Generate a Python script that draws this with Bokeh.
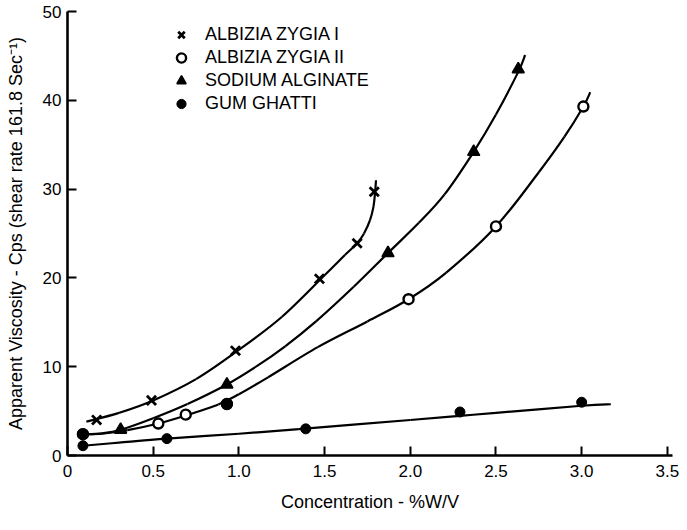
from bokeh.plotting import figure
from bokeh.models import Range1d, FixedTicker, CustomJSTickFormatter, Legend, LegendItem
from bokeh.embed import file_html
from bokeh.resources import INLINE

# ---- data ----
x_ticks = [0, 0.5, 1.0, 1.5, 2.0, 2.5, 3.0, 3.5]
y_ticks = [0, 10, 20, 30, 40, 50]

names = ["ALBIZIA ZYGIA I", "ALBIZIA ZYGIA II", "SODIUM ALGINATE", "GUM GHATTI"]

# measured points
alb1_x = [0.17, 0.49, 0.98, 1.47, 1.69, 1.79]
alb1_y = [4.0, 6.2, 11.8, 19.9, 23.9, 29.7]

alb2_x = [0.09, 0.53, 0.69, 0.93, 1.99, 2.50, 3.01]
alb2_y = [2.4, 3.6, 4.6, 5.8, 17.6, 25.8, 39.3]
alb2_solid_idx = [0, 3]

alg_x = [0.31, 0.93, 1.87, 2.37, 2.63]
alg_y = [2.9, 8.0, 22.8, 34.2, 43.5]

gha_x = [0.09, 0.58, 1.39, 2.29, 3.00]
gha_y = [1.1, 1.9, 3.0, 4.9, 6.0]

# hand-drawn fitted curves
alb1_cx = [0.11, 0.3, 0.5, 0.75, 1.0, 1.25, 1.5, 1.62, 1.69, 1.73, 1.765, 1.785, 1.795, 1.80]
alb1_cy = [3.8, 4.8, 6.2, 8.6, 11.9, 15.6, 20.3, 22.6, 23.9, 25.0, 26.5, 28.0, 29.7, 31.0]

alb2_cx = [0.09, 0.2, 0.35, 0.53, 0.69, 0.88, 1.0, 1.17, 1.46, 1.75, 1.99, 2.21, 2.5, 2.75, 2.9, 3.01, 3.05]
alb2_cy = [2.4, 2.45, 2.85, 3.6, 4.5, 5.75, 6.9, 8.8, 12.2, 15.1, 17.6, 20.6, 25.8, 31.9, 35.9, 39.3, 40.9]

alg_cx = [0.09, 0.2, 0.31, 0.5, 0.7, 0.93, 1.1, 1.27, 1.45, 1.67, 1.87, 2.05, 2.2, 2.37, 2.5, 2.63, 2.67]
alg_cy = [2.4, 2.5, 2.9, 4.2, 5.8, 8.0, 10.0, 12.3, 15.1, 19.0, 22.8, 26.2, 29.4, 34.2, 38.4, 43.2, 45.1]

gha_cx = [0.09, 0.3, 0.58, 1.0, 1.35, 2.0, 2.29, 2.5, 3.0, 3.17]
gha_cy = [1.1, 1.45, 1.9, 2.45, 2.98, 4.0, 4.47, 4.8, 5.6, 5.77]

FONT = "Liberation Sans"

p = figure(width=679, height=514,
           x_range=Range1d(0, 3.53), y_range=Range1d(0, 50),
           output_backend="svg", toolbar_location=None,
           min_border_left=67, min_border_right=7,
           min_border_top=11, min_border_bottom=54)

p.outline_line_color = None
p.xgrid.grid_line_color = None
p.ygrid.grid_line_color = None
p.background_fill_color = "white"
p.border_fill_color = "white"


def smooth_curve(xs, ys):
    """Draw a smooth line through the read points (Catmull-Rom as cubic Beziers)."""
    n = len(xs)
    X0, Y0, X1, Y1, CX0, CY0, CX1, CY1 = ([] for _ in range(8))
    for i in range(n - 1):
        im, ip2 = max(i - 1, 0), min(i + 2, n - 1)
        X0.append(xs[i]); Y0.append(ys[i]); X1.append(xs[i + 1]); Y1.append(ys[i + 1])
        CX0.append(xs[i] + (xs[i + 1] - xs[im]) / 6.0)
        CY0.append(ys[i] + (ys[i + 1] - ys[im]) / 6.0)
        CX1.append(xs[i + 1] - (xs[ip2] - xs[i]) / 6.0)
        CY1.append(ys[i + 1] - (ys[ip2] - ys[i]) / 6.0)
    p.bezier(x0=X0, y0=Y0, x1=X1, y1=Y1, cx0=CX0, cy0=CY0, cx1=CX1, cy1=CY1,
             line_color="black", line_width=2.2)


for cx, cy in [(alb1_cx, alb1_cy), (alb2_cx, alb2_cy), (alg_cx, alg_cy), (gha_cx, gha_cy)]:
    smooth_curve(cx, cy)

# markers
r1 = p.scatter(alb1_x, alb1_y, marker="x", size=13, line_color="black", line_width=2.8)
r2 = p.scatter(alb2_x, alb2_y, marker="circle", size=10, line_color="black",
               fill_color="white", line_width=2.4)
p.scatter([alb2_x[i] for i in alb2_solid_idx], [alb2_y[i] for i in alb2_solid_idx],
          marker="circle", size=11, line_color="black", fill_color="black")
r3 = p.scatter(alg_x, alg_y, marker="triangle", size=12, line_color="black",
               fill_color="black", line_width=1.5)
r4 = p.scatter(gha_x, gha_y, marker="circle", size=10, line_color="black", fill_color="black")

legend = Legend(items=[LegendItem(label=names[0], renderers=[r1]),
                       LegendItem(label=names[1], renderers=[r2]),
                       LegendItem(label=names[2], renderers=[r3]),
                       LegendItem(label=names[3], renderers=[r4])],
                location=(100, 340), orientation="vertical",
                border_line_color=None, background_fill_alpha=0,
                padding=0, margin=0, spacing=0,
                glyph_width=28, glyph_height=23, label_height=23,
                label_standoff=10,
                label_text_font=FONT, label_text_font_size="18px",
                label_text_color="black")
p.add_layout(legend, "center")

# axes
p.xaxis.ticker = FixedTicker(ticks=x_ticks)
p.xaxis.formatter = CustomJSTickFormatter(code="return tick == 0 ? '0' : tick.toFixed(1);")
p.yaxis.ticker = FixedTicker(ticks=y_ticks)

for ax in (p.xaxis, p.yaxis):
    ax.axis_line_width = 2.6
    ax.axis_line_color = "black"
    ax.major_tick_line_width = 2
    ax.major_tick_line_color = "black"
    ax.major_tick_in = 9
    ax.major_tick_out = 0
    ax.minor_tick_line_color = None
    ax.major_label_text_font = FONT
    ax.major_label_text_font_size = "17px"
    ax.major_label_text_color = "black"
    ax.axis_label_text_font = FONT
    ax.axis_label_text_font_size = "18px"
    ax.axis_label_text_font_style = "normal"
    ax.axis_label_text_color = "black"

p.xaxis.axis_label = "Concentration - %W/V"
p.yaxis.axis_label = "Apparent Viscosity - Cps (shear rate 161.8 Sec\u207b\u00b9)"
p.xaxis.major_label_standoff = 9
p.xaxis.axis_label_standoff = 12
p.yaxis.major_label_standoff = 6
p.yaxis.axis_label_standoff = 14

open("out.html", "w").write(file_html(p, INLINE))
